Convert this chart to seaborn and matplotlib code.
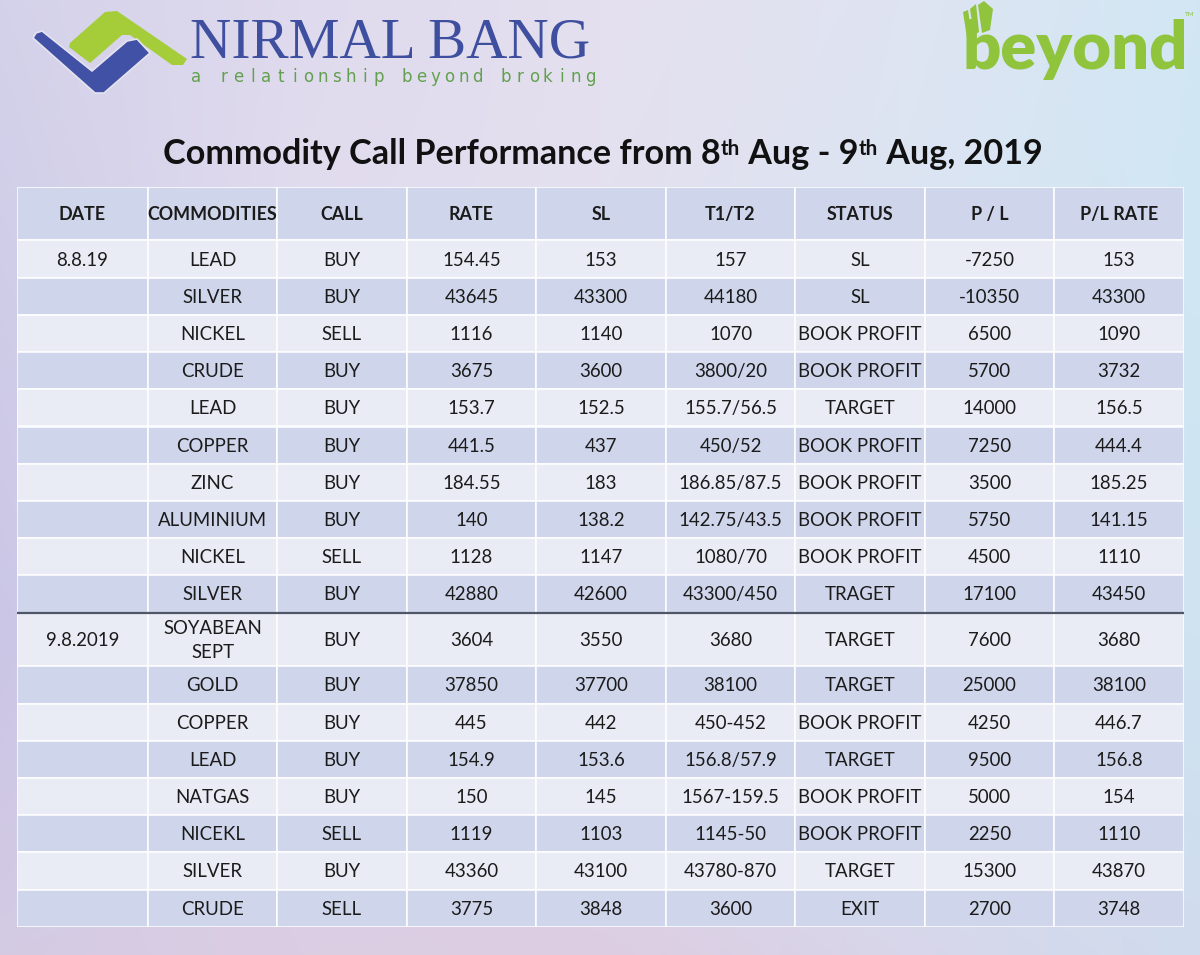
import numpy as np
import matplotlib
matplotlib.use("Agg")
import matplotlib.pyplot as plt
import seaborn as sns
from matplotlib.patches import Rectangle, Polygon
from matplotlib.colors import to_rgb

# ---------------- data ----------------
headers = ["DATE", "COMMODITIES", "CALL", "RATE", "SL", "T1/T2", "STATUS", "P / L", "P/L RATE"]
dates = ["8.8.19", "", "", "", "", "", "", "", "", "",
         "9.8.2019", "", "", "", "", "", "", ""]
commodities = ["LEAD", "SILVER", "NICKEL", "CRUDE", "LEAD", "COPPER", "ZINC", "ALUMINIUM",
               "NICKEL", "SILVER", "SOYABEAN\nSEPT", "GOLD", "COPPER", "LEAD", "NATGAS",
               "NICEKL", "SILVER", "CRUDE"]
calls = ["BUY", "BUY", "SELL", "BUY", "BUY", "BUY", "BUY", "BUY", "SELL", "BUY",
         "BUY", "BUY", "BUY", "BUY", "BUY", "SELL", "BUY", "SELL"]
rates = ["154.45", "43645", "1116", "3675", "153.7", "441.5", "184.55", "140", "1128",
         "42880", "3604", "37850", "445", "154.9", "150", "1119", "43360", "3775"]
stop_losses = ["153", "43300", "1140", "3600", "152.5", "437", "183", "138.2", "1147",
               "42600", "3550", "37700", "442", "153.6", "145", "1103", "43100", "3848"]
targets = ["157", "44180", "1070", "3800/20", "155.7/56.5", "450/52", "186.85/87.5",
           "142.75/43.5", "1080/70", "43300/450", "3680", "38100", "450-452",
           "156.8/57.9", "1567-159.5", "1145-50", "43780-870", "3600"]
statuses = ["SL", "SL", "BOOK PROFIT", "BOOK PROFIT", "TARGET", "BOOK PROFIT", "BOOK PROFIT",
            "BOOK PROFIT", "BOOK PROFIT", "TRAGET", "TARGET", "TARGET", "BOOK PROFIT",
            "TARGET", "BOOK PROFIT", "BOOK PROFIT", "TARGET", "EXIT"]
profit_loss = [-7250, -10350, 6500, 5700, 14000, 7250, 3500, 5750, 4500, 17100,
               7600, 25000, 4250, 9500, 5000, 2250, 15300, 2700]
pl_rates = ["153", "43300", "1090", "3732", "156.5", "444.4", "185.25", "141.15", "1110",
            "43450", "3680", "38100", "446.7", "156.8", "154", "1110", "43870", "3748"]

title_parts = [("Commodity Call Performance from 8", False), ("th", True),
               (" Aug - 9", False), ("th", True), (" Aug, 2019", False)]
brand_name = "NIRMAL BANG"
brand_tagline = "a relationship beyond broking"
brand2 = "beyond"

# ---------------- style ----------------
sns.set_theme(style="white")
plt.rcParams["font.family"] = ["Lato", "DejaVu Sans"]

W, H = 1200, 955
fig = plt.figure(figsize=(12, 9.55), dpi=100)

# background
bg = fig.add_axes([0, 0, 1, 1])
bg.set_xlim(0, W)
bg.set_ylim(H, 0)
bg.axis("off")

grid_hex = [
    ["#d4d2ea", "#dfdaed", "#e5e0ef", "#dfe4f2", "#d2e7f4"],
    ["#cfcce8", "#e2dcee", "#e2e0ef", "#dbe5f2", "#d0e6f3"],
    ["#cbc6e6", "#dfd5ea", "#e0dbed", "#d9e2f0", "#cfe3f1"],
    ["#d4cbe4", "#dbcde3", "#ddcde2", "#d8d6ea", "#d0dcee"],
]
g = np.array([[to_rgb(c) for c in row] for row in grid_hex])


def bilinear(g, h, w):
    r, c = g.shape[:2]
    ys = np.linspace(0, r - 1, h)
    xs = np.linspace(0, c - 1, w)
    y0 = np.clip(np.floor(ys).astype(int), 0, r - 2)
    x0 = np.clip(np.floor(xs).astype(int), 0, c - 2)
    fy = (ys - y0)[:, None, None]
    fx = (xs - x0)[None, :, None]
    a = g[y0][:, x0]
    b = g[y0][:, x0 + 1]
    cc = g[y0 + 1][:, x0]
    d = g[y0 + 1][:, x0 + 1]
    return (a * (1 - fx) + b * fx) * (1 - fy) + (cc * (1 - fx) + d * fx) * fy


img = bilinear(g, 200, 250)
bg.imshow(img, extent=(0, W, H, 0), aspect="auto", interpolation="bilinear", zorder=0)

# ---------------- logos ----------------
green_logo = "#a5cd39"
blue_logo = "#4151a6"
green_pts = [(69, 47), (70, 43), (105, 12), (117, 11), (187, 59), (183, 65), (172, 65),
             (130, 35), (122, 35), (90, 63)]
blue_pts = [(33, 38), (36, 33), (42, 31), (92, 71), (127, 41), (137, 39), (150, 53),
            (104, 93), (95, 93)]
bg.add_patch(Polygon(green_pts, closed=True, fc=green_logo, ec="none", zorder=2))
bg.add_patch(Polygon(blue_pts, closed=True, fc=blue_logo, ec="#e6e3f0", lw=1.2,
                     joinstyle="round", zorder=3))

renderer = fig.canvas.get_renderer()


def fit_text(x, y, s, target_w, size, **kw):
    t = bg.text(x, y, s, fontsize=size, **kw)
    w = t.get_window_extent(renderer).width
    t.set_fontsize(size * target_w / w)
    return t


fit_text(190, 57, brand_name, 400, 38, family=["Liberation Serif", "DejaVu Serif"],
         color="#3f4f9f", ha="left", va="baseline", zorder=4)

# tagline, evenly spaced letters
step = (590 - 196) / (len(brand_tagline) - 1)
for i, ch in enumerate(brand_tagline):
    bg.text(196 + i * step, 82, ch, fontsize=12, family=["DejaVu Sans"],
            color="#62a04f", ha="center", va="baseline", zorder=4)

fit_text(962, 69, brand2, 226, 45, family=["Lato", "DejaVu Sans"], weight="heavy",
         color="#8fc43c", ha="left", va="baseline", zorder=4)
# leaf strokes on the "b"
for pts in ([(963, 12), (968, 10), (972, 36), (967, 38)],
            [(970, 9), (976, 4), (979, 32), (974, 35)],
            [(978, 5), (984, 1), (993, 9), (990, 30), (982, 33)]):
    bg.add_patch(Polygon(pts, closed=True, fc="#8fc43c", ec="none", zorder=4))
bg.text(1190, 15, "TM", fontsize=4.5, color="#8fc43c", ha="center", va="center", zorder=4)

# ---------------- title ----------------
title_size = 23
pieces = []
for s, sup in title_parts:
    t = bg.text(0, 164, s, fontsize=title_size * (0.6 if sup else 1.0), weight="bold",
                color="#111111", ha="left", va="baseline", zorder=4)
    pieces.append((t, sup))
widths = [t.get_window_extent(renderer).width for t, _ in pieces]
total = sum(widths)
scale = 880 / total
x = 163
for (t, sup), w in zip(pieces, widths):
    t.set_fontsize(t.get_fontsize() * scale)
    t.set_x(x)
    if sup:
        t.set_y(155)
    x += w * scale

# ---------------- table ----------------
tx0, tx1, ty0, ty1 = 17, 1184, 187, 927
ax = fig.add_axes([tx0 / W, 1 - ty1 / H, (tx1 - tx0) / W, (ty1 - ty0) / H])
ax.axis("off")
ax.set_xlim(0, tx1 - tx0)
ax.set_ylim(ty1 - ty0, 0)

col_w = [131, 129, 130, 129, 130, 129, 130, 129, 130]
col_edges = np.concatenate([[0], np.cumsum(col_w)])
row_h = [53.5] + [37.2] * 10 + [53.8] + [37.2] * 7
row_edges = np.concatenate([[0], np.cumsum(row_h)])

dark = "#cfd5ea"
light = "#e9ebf5"
txt_color = "#1b1b1b"
fsize = 13.4
header_size = 12.9

body = list(zip(dates, commodities, calls, rates, stop_losses, targets, statuses,
                [str(v) for v in profit_loss], pl_rates))
rows = [headers] + body

for r, row in enumerate(rows):
    y0, y1 = row_edges[r], row_edges[r + 1]
    if r == 0:
        fc = dark
    else:
        fc = light if (r - 1) % 2 == 0 else dark
    for c, val in enumerate(row):
        x0, x1 = col_edges[c], col_edges[c + 1]
        ax.add_patch(Rectangle((x0, y0), x1 - x0, y1 - y0, fc=fc, ec="white", lw=1.1))
        if val:
            ax.text((x0 + x1) / 2, (y0 + y1) / 2 + 1, val, ha="center", va="center",
                    fontsize=header_size if r == 0 else fsize, color=txt_color,
                    weight="bold" if r == 0 else "normal", linespacing=1.45)

# separator between the two dates
sep_y = row_edges[11]
ax.plot([0, col_edges[-1]], [sep_y, sep_y], color="#4f5668", lw=1.6, solid_capstyle="butt")

fig.savefig("out.png", dpi=100)
